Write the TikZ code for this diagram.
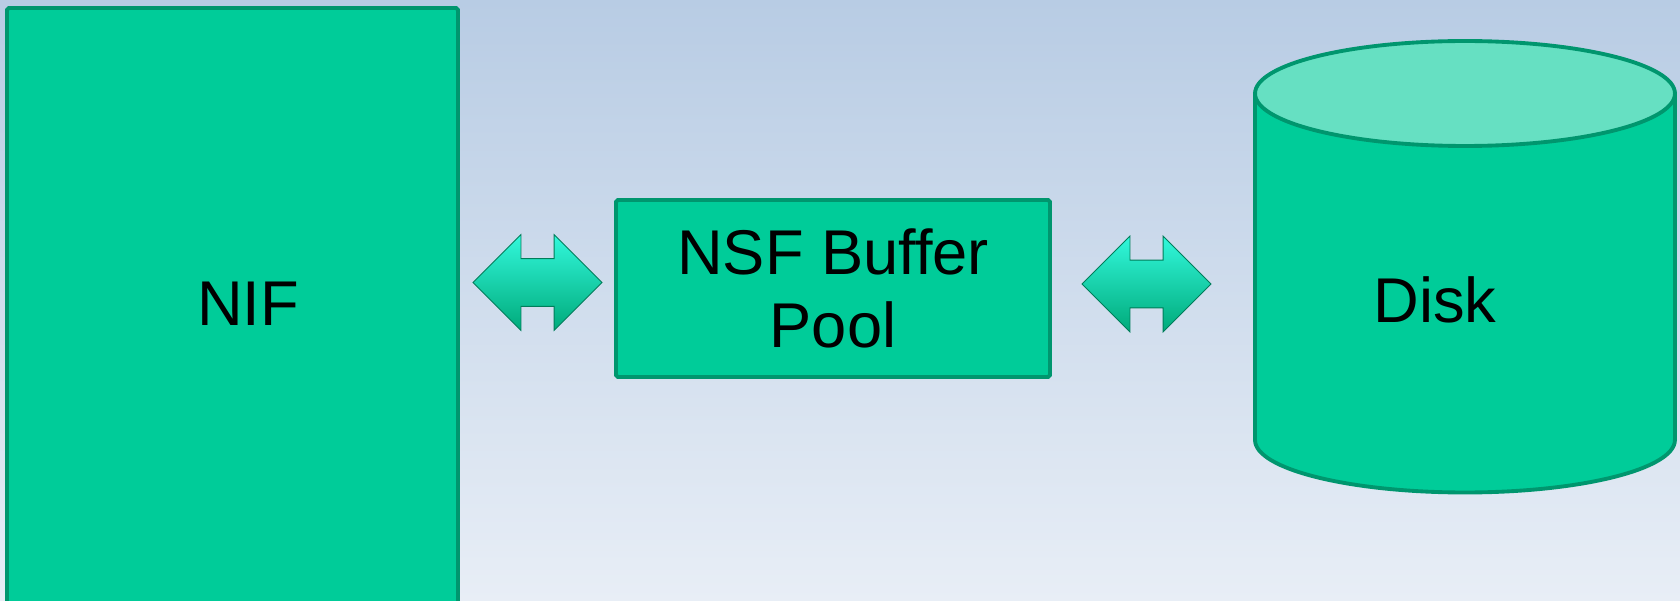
\documentclass[tikz,border=0pt]{standalone}
\usepackage{fontspec}
\setmainfont{Liberation Sans}
\usetikzlibrary{shapes.arrows}

\definecolor{boxfill}{RGB}{0,204,153}
\definecolor{boxline}{RGB}{0,150,110}
\definecolor{disktop}{RGB}{102,224,194}
\definecolor{bgtop}{RGB}{184,204,228}
\definecolor{bgbot}{RGB}{232,238,246}
\definecolor{linktop}{RGB}{50,248,220}
\definecolor{linkmid}{RGB}{0,222,170}
\definecolor{linkbot}{RGB}{0,170,122}
\definecolor{linkedge}{RGB}{0,125,90}

\begin{document}
\begin{tikzpicture}[x=0.02cm, y=-0.02cm,
    box/.style={draw=boxline, fill=boxfill, line width=2.2pt, rounded corners=1pt, inner sep=0pt},
    lbl/.style={font=\fontsize{36}{42}\selectfont, align=center, text=black},
    link/.style={double arrow, double arrow head extend=0.48cm, minimum height=2.58cm,
        inner xsep=0pt, inner ysep=0.47cm, top color=linktop, middle color=linkmid,
        bottom color=linkbot, draw=linkedge, line width=0.5pt}]

    % Background
    \fill[top color=bgtop, bottom color=bgbot] (0,0) rectangle (1680,601);
    \useasboundingbox (0,0) rectangle (1680,601);

    % Boxes
    \node[box, minimum width=9.02cm, minimum height=12cm] (nif) at (232.5,308) {};
    \node[lbl] (niftxt) at (248,303.5) {NIF};
    \node[box, lbl, minimum width=8.68cm, minimum height=3.54cm] (pool) at (833,288.5) {NSF Buffer\\Pool};

    % Disk drawn as a cylinder
    \draw[boxline, line width=2.2pt, fill=boxfill] (1255,93.5) -- (1255,440)
        arc[start angle=180, end angle=360, x radius=4.2cm, y radius=1.05cm] -- (1675,93.5) -- cycle;
    \draw[boxline, line width=2.2pt, fill=disktop] (1465,93.5) ellipse [x radius=4.2cm, y radius=1.05cm];
    \node[lbl] (disk) at (1435,300) {Disk};

    % Links
    \node[link] (lnkA) at (537.5,282.5) {};
    \node[link] (lnkB) at (1146.5,284) {};

\end{tikzpicture}
\end{document}
